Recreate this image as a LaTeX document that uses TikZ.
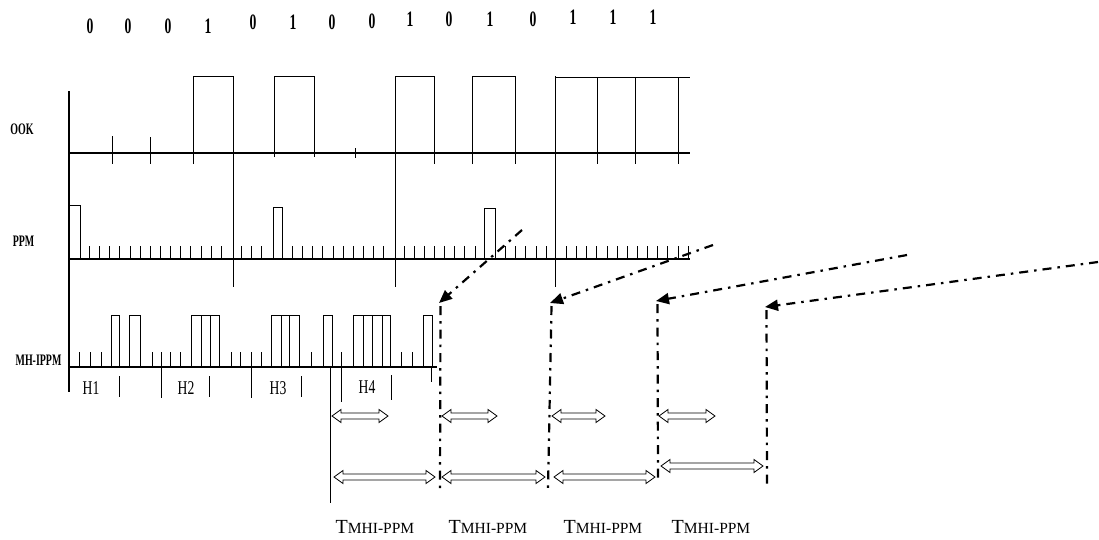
\documentclass[tikz,border=0pt]{standalone}
\usepackage{fontspec}
\setmainfont{Liberation Serif}
\usetikzlibrary{arrows.meta}
\newcommand\dblarr[3]{%
  \draw[wave] (#1,#3) -- ++(9,-6.5) -- ++(0,3.5) -- (#2-9,#3-3) -- ++(0,-3.5)
    -- (#2,#3) -- (#2-9,#3+6.5) -- ++(0,-3.5) -- (#1+9,#3+3) -- ++(0,3.5) -- cycle;}
\begin{document}
\begin{tikzpicture}[x=1pt,y=-1pt,
  wave/.style={line width=0.8pt, line join=miter},
  axisline/.style={line width=1.1pt},
  ddash/.style={line width=2.2pt, dash pattern=on 9pt off 6pt on 2.5pt off 6pt},
  ddarrow/.style={ddash, -{Triangle[length=13pt,width=11pt]}},
  bit/.style={font=\fontsize{22}{22}\selectfont\bfseries, xscale=0.62, inner sep=0},
  rowlab/.style={font=\fontsize{16}{16}\selectfont\bfseries, xscale=0.62, inner sep=0},
  hlab/.style={font=\fontsize{19.5}{19.5}\selectfont, xscale=0.7, inner sep=0},
  tlab/.style={font=\fontsize{20}{20}\selectfont, inner sep=0, anchor=base}]
\useasboundingbox (0,0) rectangle (1099,539);
\fill[white] (0,0) rectangle (1099,539);

% bits
\foreach \x/\y/\b [count=\i] in {90/26/0,128/26/0,168/26/0,208/26/1,253/22/0,293/22/1,332/22/0,372/21/0,410/19/1,449/19/0,490/19/1,533/19/0,573/17/1,613/17/1,653/17/1}
  \node[bit] (bit\i) at (\x,\y) {\b};

% row labels
\node[rowlab] (ook) at (22,129) {OOK};
\node[rowlab] (ppm) at (23.5,241) {PPM};
\node[rowlab] (mh) at (38.5,360) {MH-IPPM};

% axes
\draw[axisline] (69,91) -- (69,392);
\draw[axisline] (69,153) -- (690,153);
\draw[axisline] (69,259) -- (690,259);
\draw[axisline] (69,367) -- (437,367);

% frame dividers
\foreach \x in {233,395,555} \draw[wave] (\x,76) -- (\x,287);

% OOK
\draw[wave] (193,164) -- (193,76) -- (233,76);
\draw[wave] (274,157) -- (274,76) -- (314,76) -- (314,157);
\draw[wave] (395,76) -- (434,76) -- (434,164);
\draw[wave] (472,164) -- (472,76) -- (515,76) -- (515,164);
\draw[wave] (555,77) -- (690,77);
\foreach \x in {597,635,678} \draw[wave] (\x,77) -- (\x,164);
\draw[wave] (112,136) -- (112,164);
\draw[wave] (150,137) -- (150,164);
\draw[wave] (355,148) -- (355,158);

% PPM
\draw[wave] (69,205) -- (80,205) -- (80,259);
\draw[wave] (273,259) -- (273,207) -- (282,207) -- (282,259);
\draw[wave] (484,259) -- (484,208) -- (495,208) -- (495,259);
\foreach \k in {2,...,61}{
  \ifnum\k=16\relax\else\ifnum\k=20\relax\else\ifnum\k=21\relax\else
  \ifnum\k=32\relax\else\ifnum\k=41\relax\else\ifnum\k=42\relax\else
  \ifnum\k=48\relax\else
    \draw[wave] (69+10.15*\k,259) -- (69+10.15*\k,246);
  \fi\fi\fi\fi\fi\fi\fi
}

% MH-IPPM
\foreach \x in {79,90,101,152,170,180,231,240,261,311,401,412}
  \draw[wave] (\x,367) -- (\x,352);
\foreach \x in {161,251} \draw[wave] (\x,352) -- (\x,398);
\draw[wave] (341,352) -- (341,402);
\foreach \x in {119,209,301} \draw[wave] (\x,376) -- (\x,397);
\draw[wave] (391,375) -- (391,400);
\draw[wave] (431,367) -- (431,382);
\draw[wave] (330,368) -- (330,503);
\foreach \a/\b in {111/119,129/140,191/219,271/299,323/332,353/390,423/432}
  \draw[wave] (\a,367) -- (\a,315) -- (\b,315) -- (\b,367);
\foreach \x in {201,210,281,289,363,372,382} \draw[wave] (\x,315) -- (\x,367);

% H labels
\node[hlab] (h1) at (91,388) {H1};
\node[hlab] (h2) at (186,388) {H2};
\node[hlab] (h3) at (278,388) {H3};
\node[hlab] (h4) at (367,387) {H4};

% dash-dot arrows and verticals
\coordinate (s1) at (522,230); \coordinate (t1) at (439,303); \coordinate (b1) at (440,488);
\coordinate (s2) at (713,245); \coordinate (t2) at (550,303); \coordinate (b2) at (548,489);
\coordinate (s3) at (907,255); \coordinate (t3) at (656,301); \coordinate (b3) at (658,482);
\coordinate (s4) at (1098,262); \coordinate (t4) at (765,307); \coordinate (b4) at (767,485);
\foreach \i in {1,2,3,4} {
  \draw[ddarrow] (s\i) -- (t\i);
  \draw[ddash] (t\i) ++(1.5,3) -- (b\i);
}

% double arrows
\dblarr{332}{388}{416}
\dblarr{442}{497}{416}
\dblarr{552}{605}{416}
\dblarr{659}{715}{416}
\dblarr{334}{435}{477}
\dblarr{442}{545}{477}
\dblarr{554}{655}{477}
\dblarr{661}{763}{466}

% T labels
\foreach \x [count=\i] in {375,488,603,711}
  \node[tlab] (tl\i) at (\x,533) {T{\fontsize{15.5}{15.5}\selectfont MHI-PPM}};
\end{tikzpicture}
\end{document}
